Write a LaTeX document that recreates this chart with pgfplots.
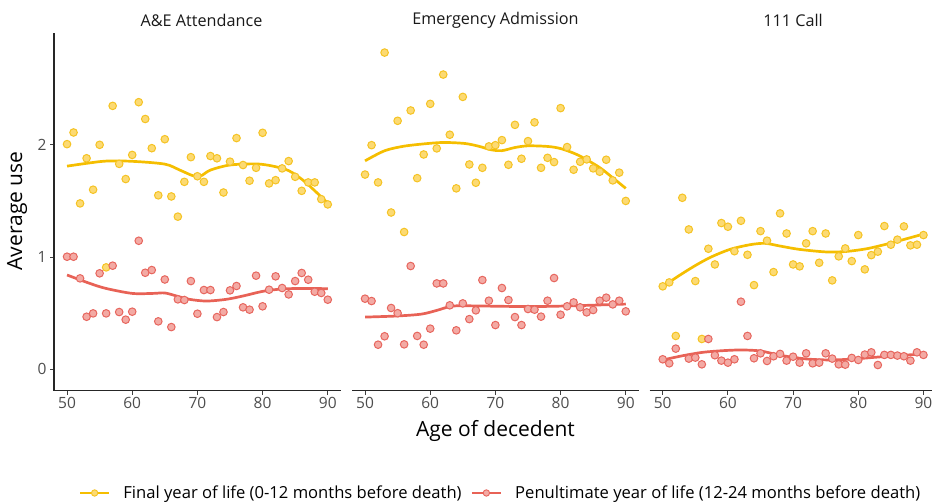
\documentclass[border=0pt]{standalone}
\usepackage{fontspec}
\setmainfont{Open Sans}
\usepackage{pgfplots}
\pgfplotsset{compat=1.18}
\usepackage{pgfplotstable}
\definecolor{yline}{RGB}{245,190,0}
\definecolor{yfill}{RGB}{252,218,115}
\definecolor{ydraw}{RGB}{245,195,35}
\definecolor{rline}{RGB}{232,98,86}
\definecolor{rfill}{RGB}{243,170,164}
\definecolor{rdraw}{RGB}{231,102,94}
\definecolor{tickgray}{RGB}{77,77,77}

% ---------- Panel 1: A&E Attendance ----------
\pgfplotstableread{
age val
50 2.006
51 2.11
52 1.478
53 1.88
54 1.60
55 2.00
56 0.908
57 2.347
58 1.83
59 1.695
60 1.91
61 2.38
62 2.23
63 1.97
64 1.55
65 2.05
66 1.54
67 1.36
68 1.67
69 1.89
70 1.72
71 1.67
72 1.90
73 1.88
74 1.575
75 1.85
76 2.06
77 1.82
78 1.68
79 1.795
80 2.107
81 1.656
82 1.685
83 1.79
84 1.855
85 1.715
86 1.59
87 1.665
88 1.665
89 1.516
90 1.469
}\aeY
\pgfplotstableread{
age val
50 1.003
51 1.003
52 0.81
53 0.468
54 0.498
55 0.855
56 0.498
57 0.923
58 0.51
59 0.442
60 0.513
61 1.145
62 0.86
63 0.884
64 0.427
65 0.80
66 0.376
67 0.623
68 0.617
69 0.786
70 0.495
71 0.706
72 0.706
73 0.465
74 0.51
75 0.703
76 0.742
77 0.552
78 0.531
79 0.834
80 0.561
81 0.709
82 0.828
83 0.724
84 0.667
85 0.786
86 0.858
87 0.798
88 0.691
89 0.68
90 0.62
}\aeR
\pgfplotstableread{
age val
50 1.81
53 1.835
56 1.855
60 1.853
65 1.828
67.3 1.775
69.3 1.725
70.5 1.722
72 1.775
75 1.82
79 1.83
81.6 1.81
84 1.77
86.2 1.685
88.2 1.58
90 1.48
}\aeYs
\pgfplotstableread{
age val
50 0.84
53.5 0.765
56 0.72
60 0.676
63.2 0.676
65 0.680
66.8 0.653
68.8 0.623
71.4 0.608
74.4 0.623
77 0.653
80 0.694
83.1 0.716
86.7 0.72
90 0.718
}\aeRs

% ---------- Panel 2: Emergency Admission ----------
\pgfplotstableread{
age val
50 1.735
51 1.997
52 1.665
53 2.822
54 1.397
55 2.214
56 1.223
57 2.306
58 1.703
59 1.914
60 2.365
61 1.968
62 2.626
63 2.09
64 1.612
65 2.427
66 1.825
67 1.662
68 1.795
69 1.986
70 1.997
71 2.042
72 1.822
73 2.178
74 1.876
75 2.033
76 2.20
77 1.795
78 1.884
79 1.846
80 2.327
81 1.98
82 1.778
83 1.849
84 1.87
85 1.79
86 1.76
87 1.867
88 1.683
89 1.752
90 1.50
}\emY
\pgfplotstableread{
age val
50 0.629
51 0.608
52 0.219
53 0.294
54 0.546
55 0.50
56 0.222
57 0.92
58 0.297
59 0.219
60 0.362
61 0.765
62 0.765
63 0.57
64 0.347
65 0.587
66 0.447
67 0.525
68 0.795
69 0.611
70 0.394
71 0.724
72 0.617
73 0.465
74 0.394
75 0.537
76 0.531
77 0.469
78 0.611
79 0.813
80 0.486
81 0.561
82 0.596
83 0.552
84 0.507
85 0.528
86 0.611
87 0.638
88 0.578
89 0.611
90 0.516
}\emR
\pgfplotstableread{
age val
50 1.857
53 1.947
56 1.988
59.7 2.012
62.2 2.021
65.3 2.012
67.4 1.988
69.4 1.955
71 1.948
73 1.976
75 1.991
78.1 1.985
80.1 1.965
82.7 1.908
85.8 1.805
87.8 1.716
90 1.612
}\emYs
\pgfplotstableread{
age val
50 0.465
55 0.475
58.7 0.492
61.2 0.528
62.8 0.556
64.3 0.566
67.4 0.564
72.5 0.560
77.6 0.560
82.7 0.567
90 0.581
}\emRs

% ---------- Panel 3: 111 Call ----------
\pgfplotstableread{
age val
50 0.739
51 0.774
52 0.297
53 1.528
54 1.246
55 0.786
56 0.27
57 1.074
58 0.934
59 1.303
60 1.27
61 1.052
62 1.323
63 1.02
64 0.75
65 1.231
66 1.146
67 0.866
68 1.389
69 1.21
70 0.934
71 0.917
72 1.122
73 1.231
74 0.949
75 1.21
76 0.792
77 1.006
78 1.077
79 0.964
80 1.196
81 0.89
82 1.017
83 1.048
84 1.276
85 1.11
86 1.155
87 1.273
88 1.104
89 1.11
90 1.196
}\caY
\pgfplotstableread{
age val
50 0.089
51 0.053
52 0.184
54 0.095
55 0.104
56 0.044
57 0.27
58 0.125
59 0.077
60 0.059
61 0.089
62 0.602
63 0.297
64 0.098
65 0.142
66 0.074
67 0.116
68 0.137
69 0.077
70 0.112
71 0.059
72 0.142
73 0.053
74 0.059
75 0.142
76 0.095
77 0.044
78 0.041
79 0.101
80 0.083
81 0.131
82 0.151
83 0.038
84 0.128
85 0.128
86 0.122
87 0.116
88 0.077
89 0.151
90 0.128
}\caR
\pgfplotstableread{
age val
50 0.736
52.1 0.819
54.7 0.914
57.3 0.997
60.3 1.068
63.4 1.11
65.7 1.122
68 1.098
71 1.068
75.2 1.045
78.2 1.05
81.3 1.074
84.4 1.116
87.4 1.163
90 1.205
}\caYs
\pgfplotstableread{
age val
50 0.083
53 0.12
56 0.15
59 0.165
62 0.172
65 0.163
68 0.125
72 0.092
76 0.083
80 0.095
85 0.118
90 0.136
}\caRs

\pgfplotsset{
  panel/.style={
    scale only axis, width=286.8pt, height=358pt,
    xmin=48, xmax=92, ymin=-0.19, ymax=3.0,
    axis x line*=bottom,
    xtick={50,60,70,80,90},
    tick align=outside, major tick length=4pt,
    every tick/.style={black!75, line width=1pt},
    axis line style={-, black!85, line width=1.3pt},
    tick label style={font=\fontsize{15.5}{18}\selectfont, text=tickgray},
    /pgf/number format/assume math mode=true,
    xticklabel style={inner sep=2pt},
    anchor=south west,
  },
  ypts/.style={only marks, mark=*, mark size=3.8pt,
    mark options={draw=ydraw, fill=yfill, line width=1pt}, forget plot},
  rpts/.style={only marks, mark=*, mark size=3.8pt,
    mark options={draw=rdraw, fill=rfill, line width=1pt}, forget plot},
  ysm/.style={yline, line width=2.7pt, smooth, no marks, forget plot},
  rsm/.style={rline, line width=2.7pt, smooth, no marks, forget plot},
}

\begin{document}
\begin{tikzpicture}
% Panel 1
\begin{axis}[panel, at={(54pt,111.4pt)},
  axis y line*=left, ytick={0,1,2},
  legend columns=2,
  legend style={draw=none, fill=none, at={(axis description cs:1.557,-0.286)}, anchor=center,
    font=\fontsize{16.6}{19}\selectfont,
    /tikz/every odd column/.append style={column sep=11pt},
    /tikz/every even column/.append style={column sep=7pt}},
  legend cell align=left,
  legend image code/.code={
    \draw[#1, line width=2.6pt] (0pt,0pt) -- (29pt,0pt);
    \draw[#1] plot[mark=*, mark size=3.2pt] coordinates {(14.5pt,0pt)};
  },
]
\addplot[ypts] table[x=age,y=val] {\aeY};
\addplot[rpts] table[x=age,y=val] {\aeR};
\addplot[ysm] table[x=age,y=val] {\aeYs};
\addplot[rsm] table[x=age,y=val] {\aeRs};
\addlegendimage{yline, mark options={draw=ydraw, fill=yfill, line width=0.9pt}}
\addlegendimage{rline, mark options={draw=rdraw, fill=rfill, line width=0.9pt}}
\legend{Final year of life (0-12 months before death), Penultimate year of life (12-24 months before death)}
\end{axis}
% Panel 2
\begin{axis}[panel, at={(352pt,111.4pt)}, axis y line=none, ytick=\empty]
\addplot[ypts] table[x=age,y=val] {\emY};
\addplot[rpts] table[x=age,y=val] {\emR};
\addplot[ysm] table[x=age,y=val] {\emYs};
\addplot[rsm] table[x=age,y=val] {\emRs};
\end{axis}
% Panel 3
\begin{axis}[panel, at={(649.7pt,111.4pt)}, axis y line=none, ytick=\empty]
\addplot[ypts] table[x=age,y=val] {\caY};
\addplot[rpts] table[x=age,y=val] {\caR};
\addplot[ysm] table[x=age,y=val] {\caYs};
\addplot[rsm] table[x=age,y=val] {\caRs};
\end{axis}
% strip labels and axis titles
\node[font=\fontsize{16.2}{19}\selectfont, text=black!90] at (201.5pt,482pt) {A\&E Attendance};
\node[font=\fontsize{16.2}{19}\selectfont, text=black!90] at (495.5pt,482pt) {Emergency Admission};
\node[font=\fontsize{16.2}{19}\selectfont, text=black!90] at (793.1pt,482pt) {111 Call};
\node[font=\fontsize{21}{25}\selectfont, rotate=90] at (17pt,291pt) {Average use};
\node[font=\fontsize{21}{25}\selectfont] at (495.5pt,71pt) {Age of decedent};
\pgfresetboundingbox
\useasboundingbox (0pt,0pt) rectangle (932pt,502pt);
\end{tikzpicture}
\end{document}
